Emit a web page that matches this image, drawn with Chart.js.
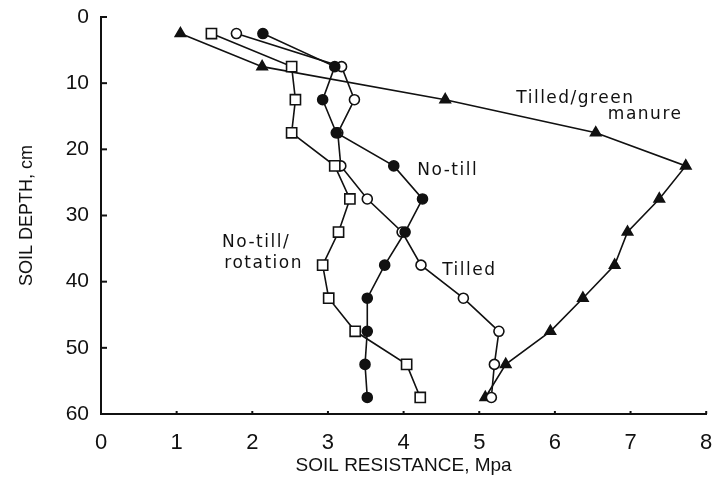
<!DOCTYPE html>
<html>
<head>
<meta charset="utf-8">
<script src="https://cdn.jsdelivr.net/npm/chart.js@4/dist/chart.umd.min.js"></script>
<style>
  html, body { margin: 0; padding: 0; background: #fff; }
  #wrap { width: 715px; height: 479px; }
</style>
</head>
<body>
<div id="wrap"><canvas id="c" width="715" height="479"></canvas></div>
<script>
// Soil depth (cm) at which resistance was measured
const depths = [2.5, 7.5, 12.5, 17.5, 22.5, 27.5, 32.5, 37.5, 42.5, 47.5, 52.5, 57.5];
// Soil resistance (MPa) per treatment
const noTill         = [2.14, 3.09, 2.93, 3.11, 3.87, 4.25, 4.02, 3.75, 3.52, 3.52, 3.49, 3.52];
const tilled         = [1.79, 3.18, 3.35, 3.13, 3.17, 3.52, 3.98, 4.23, 4.79, 5.26, 5.20, 5.16];
const noTillRotation = [1.46, 2.52, 2.57, 2.52, 3.09, 3.29, 3.14, 2.93, 3.01, 3.36, 4.04, 4.22];
const tilledGreen    = [1.05, 2.13, 4.55, 6.54, 7.73, 7.38, 6.96, 6.79, 6.37, 5.94, 5.35, 5.08];
// Axis ticks and titles
const xTicks = [0, 1, 2, 3, 4, 5, 6, 7, 8];
const yTicks = [0, 10, 20, 30, 40, 50, 60];
const xTitle = 'SOIL RESISTANCE, Mpa';
const yTitle = 'SOIL DEPTH, cm';
// In-plot series labels, anchored at data coordinates (resistance, depth)
const seriesLabels = [
  { text: 'Tilled/green', x: 5.49, y: 12.3 },
  { text: 'manure', x: 6.70, y: 14.7 },
  { text: 'No-till', x: 4.18, y: 23.2 },
  { text: 'Tilled', x: 4.51, y: 38.3 },
  { text: 'No-till/', x: 1.60, y: 34.1 },
  { text: 'rotation', x: 1.63, y: 37.2 }
];

function pts(vals) { return vals.map((v, i) => ({ x: v, y: depths[i] })); }

const common = {
  showLine: true,
  borderColor: '#111',
  borderWidth: 1.6,
  pointBorderColor: '#111',
  pointBorderWidth: 1.6,
  tension: 0
};

const tickPlugin = {
  id: 'inwardTicks',
  afterDraw(chart) {
    const ctx = chart.ctx;
    const xs = chart.scales.x, ys = chart.scales.y;
    const a = chart.chartArea;
    ctx.save();
    ctx.strokeStyle = '#111';
    ctx.lineWidth = 2;
    yTicks.forEach(v => {
      const py = ys.getPixelForValue(v);
      ctx.beginPath();
      ctx.moveTo(a.left, py);
      ctx.lineTo(a.left + 6, py);
      ctx.stroke();
    });
    xTicks.forEach(v => {
      if (v === 0) return;
      const px = xs.getPixelForValue(v);
      ctx.beginPath();
      ctx.moveTo(px, a.bottom);
      ctx.lineTo(px, a.bottom - 3);
      ctx.stroke();
    });
    ctx.fillStyle = '#111';
    ctx.font = '17px "DejaVu Sans"';
    try { ctx.letterSpacing = '1.5px'; } catch (e) {}
    ctx.textAlign = 'left';
    ctx.textBaseline = 'middle';
    seriesLabels.forEach(l => {
      ctx.fillText(l.text, xs.getPixelForValue(l.x), ys.getPixelForValue(l.y));
    });
    ctx.restore();
  }
};

new Chart(document.getElementById('c'), {
  type: 'scatter',
  data: {
    datasets: [
      Object.assign({ label: 'No-till', data: pts(noTill), pointStyle: 'circle', pointRadius: 5, pointBackgroundColor: '#111' }, common),
      Object.assign({ label: 'No-till/rotation', data: pts(noTillRotation), pointStyle: 'rect', pointRadius: 7.2, pointBackgroundColor: '#fff' }, common),
      Object.assign({ label: 'Tilled', data: pts(tilled), pointStyle: 'circle', pointRadius: 5, pointBackgroundColor: '#fff' }, common),
      Object.assign({ label: 'Tilled/green manure', data: pts(tilledGreen), pointStyle: 'triangle', pointRadius: 6, pointBackgroundColor: '#111' }, common)
    ]
  },
  options: {
    responsive: false,
    animation: false,
    layout: { padding: { top: 17, right: 6, left: 0, bottom: 0 } },
    plugins: { legend: { display: false }, tooltip: { enabled: false } },
    scales: {
      x: {
        type: 'linear', min: 0, max: 8,
        afterBuildTicks(s) { s.ticks = xTicks.map(v => ({ value: v })); },
        afterFit(s) { s.height = 65; s.paddingLeft = 0; s.paddingRight = 0; },
        grid: { display: false, drawTicks: false },
        border: { display: true, color: '#111', width: 2 },
        ticks: { color: '#111', font: { family: '"Liberation Sans", Arial, sans-serif', size: 22 }, padding: 16, maxRotation: 0 },
        title: { display: true, text: xTitle, color: '#111', font: { family: '"Liberation Sans", Arial, sans-serif', size: 19 }, padding: { top: 0, bottom: 2 } }
      },
      y: {
        type: 'linear', min: 0, max: 60, reverse: true,
        afterBuildTicks(s) { s.ticks = yTicks.map(v => ({ value: v })); },
        afterFit(s) { s.width = 101; s.paddingTop = 0; s.paddingBottom = 0; },
        grid: { display: false, drawTicks: false },
        border: { display: true, color: '#111', width: 2 },
        ticks: { color: '#111', font: { family: '"Liberation Sans", Arial, sans-serif', size: 21 }, padding: 12 },
        title: { display: true, text: yTitle, color: '#111', font: { family: '"Liberation Sans Narrow", "Liberation Sans", Arial, sans-serif', size: 18 }, padding: { top: 16, bottom: 0 } }
      }
    }
  },
  plugins: [tickPlugin]
});
</script>
</body>
</html>
